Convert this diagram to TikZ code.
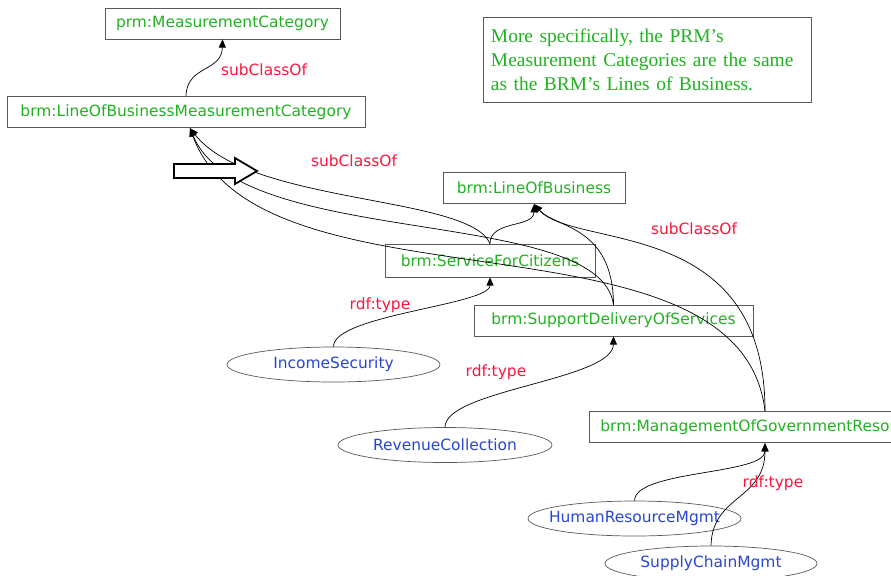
\documentclass[tikz,border=0pt]{standalone}
\usepackage{fontspec}
\setmainfont{DejaVu Sans}
\newfontfamily\notefont{Liberation Serif}
\usepackage{tikz}
\usetikzlibrary{arrows.meta, shapes.geometric, calc}

\definecolor{clsgreen}{RGB}{34,177,34}
\definecolor{instblue}{RGB}{40,70,210}
\definecolor{lblred}{RGB}{255,20,60}

\begin{document}
\begin{tikzpicture}[
    x=0.03cm, y=0.03cm,
    font=\fontsize{13.2}{16}\selectfont,
    cls/.style={rectangle, draw=black!65, line width=0.6pt, text=clsgreen, minimum height=0.95cm, inner sep=0pt},
    inst/.style={ellipse, draw=black!65, line width=0.6pt, text=instblue, inner sep=0pt, minimum height=1.05cm},
    lbl/.style={text=lblred, inner sep=0pt},
    rel/.style={draw, line width=0.6pt, ->},
    >={Triangle[length=7pt, width=6pt]}
]
\useasboundingbox (0,0) rectangle (891,-575);
\clip (0,0) rectangle (891,-575);

\node[cls, minimum width=7.05cm, minimum height=0.93cm] (prm) at (222.5,-23.5) {prm:MeasurementCategory};
\node[cls, minimum width=10.74cm] (lobmc) at (186,-112) {brm:LineOfBusinessMeasurementCategory};
\node[cls, minimum width=5.46cm] (lob) at (534,-188) {brm:LineOfBusiness};
\node[cls, minimum width=6.3cm, minimum height=0.99cm] (sfc) at (490,-260.5) {brm:ServiceForCitizens};
\node[cls, minimum width=8.37cm, minimum height=0.93cm] (sdos) at (613.5,-320.5) {brm:SupportDeliveryOfServices};
\node[cls, anchor=west, inner xsep=0.33cm] (mog) at (589,-427) {brm:ManagementOfGovernmentResources};

\node[inst, minimum width=6.39cm] (inc) at (333.5,-364.5) {IncomeSecurity};
\node[inst, minimum width=6.42cm] (rev) at (445,-445) {RevenueCollection};
\node[inst, minimum width=6.39cm, inner xsep=-0.32cm] (hrm) at (634.5,-518.5) {HumanResourceMgmt};
\node[inst, minimum width=6.36cm] (scm) at (711,-563.5) {SupplyChainMgmt};

\node[draw=black!65, line width=0.6pt, text=clsgreen, font=\notefont\fontsize{16.6}{20.4}\selectfont,
      align=left, text width=9.36cm, inner xsep=0.24cm, minimum height=2.55cm] (note) at (647,-59.5)
      {More specifically, the PRM’s\\Measurement Categories are the same\\as the BRM’s Lines of Business.};

\coordinate (lobmcin) at ($(lobmc.south)+(4,0)$);
\coordinate (mogtop) at ($(mog.north west)+(176,0)$);
\coordinate (mogbot) at ($(mog.south west)+(176,0)$);

% subClassOf
\draw[rel] (lobmc.north) .. controls (187,-65) and (222,-72) .. (prm.south);
\draw[rel] (sfc.north) .. controls (490,-220) and (534,-228) .. (lob.south);
\draw[rel] (sdos.north) .. controls (613,-225) and (555,-228) .. (lob.south);
\draw[rel] (mogtop) .. controls (765,-215) and (575,-250) .. (lob.south);
\draw[rel] (sfc.north) .. controls (470,-195) and (250,-205) .. (lobmcin);
\draw[rel] (sdos.north) .. controls (600,-205) and (240,-250) .. (lobmcin);
\draw[rel] (mogtop) .. controls (740,-200) and (260,-320) .. (lobmcin);

% rdf:type
\draw[rel] (inc.north) .. controls (333,-315) and (490,-305) .. (sfc.south);
\draw[rel] (rev.north) .. controls (445,-390) and (613,-380) .. (sdos.south);
\draw[rel] (hrm.north) .. controls (635,-470) and (765,-475) .. (mogbot);
\draw[rel] (scm.north) .. controls (712,-495) and (765,-500) .. (mogbot);

\node[lbl] (sub1) at (264,-70) {subClassOf};
\node[lbl] (sub2) at (354,-161) {subClassOf};
\node[lbl] (sub3) at (694,-229) {subClassOf};
\node[lbl] (type1) at (380,-305) {rdf:type};
\node[lbl] (type2) at (496,-372) {rdf:type};
\node[lbl] (type3) at (773,-483) {rdf:type};

% hint arrow
\draw[line width=1.5pt, fill=white] (174,-164) -- (235,-164) -- (235,-158) -- (257,-171)
    -- (235,-184) -- (235,-178) -- (174,-178) -- cycle;

\end{tikzpicture}
\end{document}
